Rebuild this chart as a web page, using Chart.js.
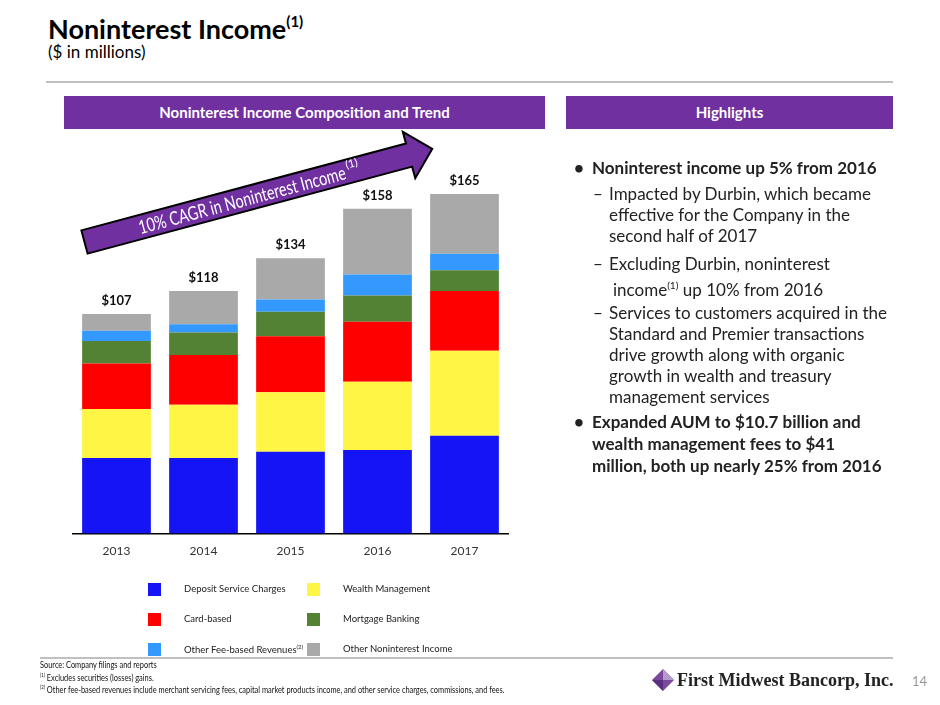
<!DOCTYPE html>
<html>
<head>
<meta charset="utf-8">
<script src="https://cdn.jsdelivr.net/npm/chart.js@4.4.0/dist/chart.umd.min.js"></script>
<style>
  body { margin:0; background:#fff; font-family: Lato, "Open Sans", sans-serif; }
  #page { position:relative; width:940px; height:705px; overflow:hidden; }
  .abs { position:absolute; }
  .hdr { background:#7030A0; color:#fff; font-weight:bold; font-size:15px; text-align:center; line-height:33px; height:33px; }
  .hl { position:absolute; font-size:17px; color:#222; white-space:nowrap; line-height:21px; }
  .hl.b { font-weight:bold; }
  .leg { position:absolute; font-size:9.5px; color:#222; white-space:nowrap; }
  .sw { position:absolute; width:13px; height:13px; }
  .fn { position:absolute; left:40px; font-size:9.5px; color:#111; white-space:nowrap; transform:scaleX(0.78); transform-origin:left top; }
  sup { font-size:60%; }
</style>
</head>
<body>
<div id="page">
  <div class="abs" style="left:48px;top:12px;font-size:27px;font-weight:bold;color:#000;">Noninterest Income<sup style="font-size:15px;vertical-align:12px;">(1)</sup></div>
  <div class="abs" style="left:48px;top:41px;font-size:17px;font-weight:normal;color:#000;">($ in millions)</div>
  <div class="abs" style="left:46px;top:81px;width:847px;height:2px;background:#c0c0c0;"></div>

  <div class="abs hdr" style="left:64px;top:96px;width:481px;">Noninterest Income Composition and Trend</div>
  <div class="abs hdr" style="left:566px;top:96px;width:327px;">Highlights</div>

  <div class="abs" style="left:60px;top:150px;width:460px;height:420px;">
    <canvas id="myChart"></canvas>
  </div>

  <svg class="abs" style="left:0;top:0;pointer-events:none;" width="940" height="705">
    <g transform="translate(84.5,242) rotate(-15)">
      <polygon points="0,-12 336,-12 336,-24 360,0 336,24 336,12 0,12" fill="#7030A0" stroke="#000" stroke-width="2"/>
      <text x="56" y="7" fill="#fff" font-size="19" font-family="Lato, sans-serif" textLength="214" lengthAdjust="spacingAndGlyphs">10% CAGR in Noninterest Income</text>
      <text x="272" y="-3" fill="#fff" font-size="11" font-family="Lato, sans-serif">(1)</text>
    </g>
  </svg>

  <div id="legend"></div>

  <div class="hl b" style="left:574px;top:157px;">•</div>
  <div class="hl b" style="left:592px;top:157px;">Noninterest income up 5% from 2016</div>
  <div class="hl" style="left:593px;top:183px;">–</div>
  <div class="hl" style="left:609px;top:183px;">Impacted by Durbin, which became</div>
  <div class="hl" style="left:609px;top:204px;">effective for the Company in the</div>
  <div class="hl" style="left:609px;top:225px;">second half of 2017</div>
  <div class="hl" style="left:593px;top:253px;">–</div>
  <div class="hl" style="left:609px;top:253px;">Excluding Durbin, noninterest</div>
  <div class="hl" style="left:613px;top:275px;">income<sup>(1)</sup> up 10% from 2016</div>
  <div class="hl" style="left:593px;top:302px;">–</div>
  <div class="hl" style="left:609px;top:302px;">Services to customers acquired in the</div>
  <div class="hl" style="left:609px;top:323px;">Standard and Premier transactions</div>
  <div class="hl" style="left:609px;top:344px;">drive growth along with organic</div>
  <div class="hl" style="left:609px;top:365px;">growth in wealth and treasury</div>
  <div class="hl" style="left:609px;top:386px;">management services</div>
  <div class="hl b" style="left:574px;top:411px;">•</div>
  <div class="hl b" style="left:592px;top:411px;">Expanded AUM to $10.7 billion and</div>
  <div class="hl b" style="left:592px;top:433px;">wealth management fees to $41</div>
  <div class="hl b" style="left:592px;top:455px;">million, both up nearly 25% from 2016</div>

  <div class="abs" style="left:40px;top:657px;width:853px;height:2px;background:#c0c0c0;"></div>
  <div class="fn" style="top:659px;">Source: Company filings and reports</div>
  <div class="fn" style="top:671px;"><sup>(1)</sup> Excludes securities (losses) gains.</div>
  <div class="fn" style="top:683px;"><sup>(2)</sup> Other fee-based revenues include merchant servicing fees, capital market products income, and other service charges, commissions, and fees.</div>

  <svg class="abs" style="left:651px;top:668px;" width="24" height="24">
    <polygon points="12,1 23,12 12,23 1,12" fill="#7b4a9c"/>
    <polygon points="12,1 23,12 12,12" fill="#b79ad0"/>
    <polygon points="1,12 12,12 12,23" fill="#5a2d80"/>
  </svg>
  <div class="abs" style="left:677px;top:670px;font-family:'Liberation Serif', serif;font-weight:bold;font-size:18px;color:#222;white-space:nowrap;">First Midwest Bancorp, Inc.</div>
  <div class="abs" style="left:912px;top:673px;font-size:13px;color:#999;">14</div>
</div>

<script>
var years = ['2013', '2014', '2015', '2016', '2017'];
var depositService = [36.8, 36.8, 39.9, 40.7, 47.7];
var wealthMgmt = [23.9, 26.0, 28.9, 33.2, 41.3];
var cardBased = [22.2, 24.2, 27.3, 29.3, 29.1];
var mortgageBanking = [10.9, 10.9, 11.9, 12.8, 10.1];
var otherFeeBased = [5.0, 4.1, 6.0, 10.2, 8.1];
var otherNoninterest = [8.1, 16.1, 20.1, 32.0, 29.1];
var totalLabels = ['$107', '$118', '$134', '$158', '$165'];

var series = [
  { name: 'Deposit Service Charges', data: depositService, color: '#1414F5' },
  { name: 'Wealth Management', data: wealthMgmt, color: '#FFF545' },
  { name: 'Card-based', data: cardBased, color: '#FF0000' },
  { name: 'Mortgage Banking', data: mortgageBanking, color: '#548235' },
  { name: 'Other Fee-based Revenues', data: otherFeeBased, color: '#3399FF', sup: '(2)' },
  { name: 'Other Noninterest Income', data: otherNoninterest, color: '#A9A9A9' }
];

// legend, 2 columns x 3 rows
var legHtml = '';
series.forEach(function(s, i){
  var col = i % 2, row = Math.floor(i / 2);
  var x = col == 0 ? 148 : 307;
  var y = 590 + row * 30;
  legHtml += '<div class="sw" style="left:' + x + 'px;top:' + (y-7) + 'px;background:' + s.color + ';"></div>';
  legHtml += '<div class="leg" style="left:' + (x+36) + 'px;top:' + (y-7) + 'px;">' + s.name + (s.sup ? '<sup style="font-size:6px;">' + s.sup + '</sup>' : '') + '</div>';
});
document.getElementById('legend').innerHTML = legHtml;

const totalsPlugin = {
  id: 'totals',
  afterDatasetsDraw(chart) {
    const ctx = chart.ctx;
    const last = chart.getDatasetMeta(chart.data.datasets.length - 1);
    ctx.save();
    ctx.font = 'bold 13px Lato, sans-serif';
    ctx.fillStyle = '#111';
    ctx.textAlign = 'center';
    ctx.textBaseline = 'middle';
    last.data.forEach(function(bar, i){
      ctx.fillText(totalLabels[i], bar.x, bar.y - 13);
    });
    ctx.restore();
  }
};

const ctx = document.getElementById('myChart').getContext('2d');
const myChart = new Chart(ctx, {
  type: 'bar',
  data: {
    labels: years,
    datasets: series.map(function(s){
      return { label: s.name, data: s.data, backgroundColor: s.color, borderWidth: 0,
               barPercentage: 0.79, categoryPercentage: 1.0 };
    })
  },
  options: {
    responsive: true,
    maintainAspectRatio: false,
    animation: false,
    layout: { padding: { left: 13, right: 12, top: 14, bottom: 10 } },
    plugins: { legend: { display: false }, tooltip: { enabled: false } },
    scales: {
      x: {
        stacked: true,
        grid: { display: false },
        border: { display: true, color: '#000', width: 1.5 },
        ticks: { color: '#333', font: { size: 12, family: 'Lato, sans-serif' }, padding: 2 }
      },
      y: {
        stacked: true,
        display: false,
        min: 0,
        max: 180
      }
    }
  },
  plugins: [totalsPlugin]
});
</script>
</body>
</html>
